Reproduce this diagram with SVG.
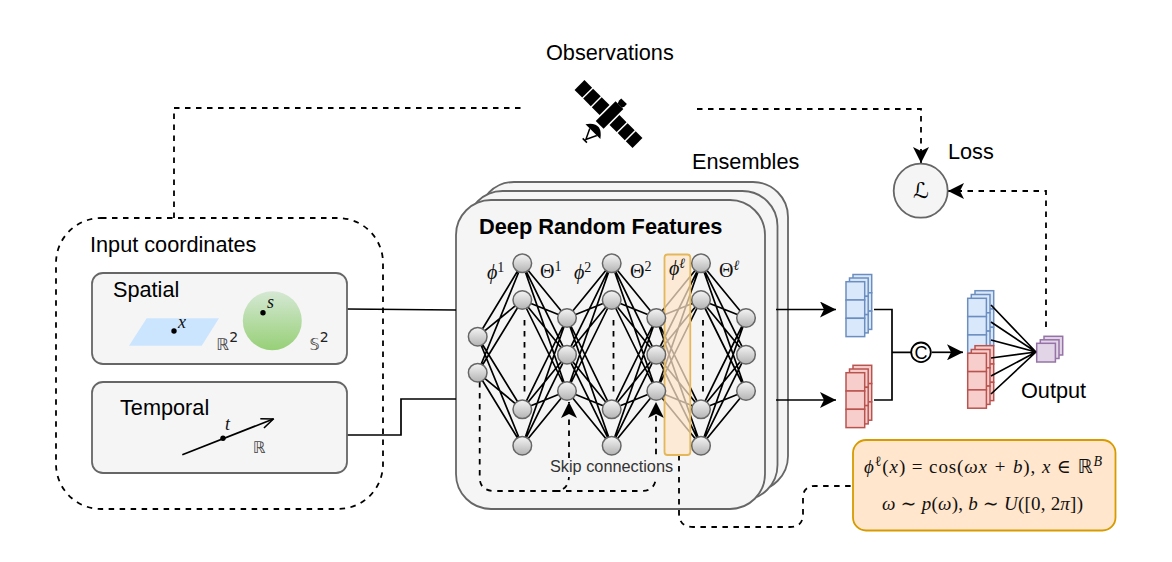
<svg xmlns="http://www.w3.org/2000/svg" width="1172" height="562" viewBox="0 0 1172 562">
<style>
text{font-family:"Liberation Sans",Arial,sans-serif;fill:#000}
.t{font-size:21.7px}
.m{font-family:"Liberation Serif","DejaVu Serif",serif;font-size:20px;font-style:italic;fill:#111}
.u{font-style:normal}
.bb{font-family:"DejaVu Sans",sans-serif;font-style:normal;font-size:16px;fill:#444}
.sup{font-size:14px;font-style:normal}
.card{fill:#f5f5f5;stroke:#666;stroke-width:1.8}
.n{fill:url(#ng);stroke:#666;stroke-width:1.5}
.e{fill:none;stroke:#000;stroke-width:1.7}
.d{fill:none;stroke:#000;stroke-width:1.8;stroke-dasharray:5.500 5.500}
.bl{fill:#dae8fc;stroke:#6c8ebf;stroke-width:1.5}
.rd{fill:#f8cecc;stroke:#b85450;stroke-width:1.5}
.pu{fill:#e1d5e7;stroke:#9673a6;stroke-width:1.5}
</style>
<defs>
<linearGradient id="ng" x1="0" y1="0" x2="0" y2="1"><stop offset="0" stop-color="#f5f5f5"/><stop offset="1" stop-color="#b3b3b3"/></linearGradient>
<linearGradient id="sg" x1="0" y1="0" x2="0" y2="1"><stop offset="0" stop-color="#d5e8d4"/><stop offset="1" stop-color="#97d077"/></linearGradient>
<marker id="ar" viewBox="0 0 16 16" refX="16" refY="8" markerWidth="16" markerHeight="16" markerUnits="userSpaceOnUse" orient="auto"><path d="M0 0L16 8L0 16L4 8Z" fill="#000"/></marker>
<marker id="oa" viewBox="0 0 14 12" refX="13" refY="6" markerWidth="14" markerHeight="12" markerUnits="userSpaceOnUse" orient="auto"><path d="M1 1L13 6L1 11" fill="none" stroke="#000" stroke-width="1.6"/></marker>
<g id="s3"><rect width="18.7" height="18.3"/><rect y="18.3" width="18.7" height="18.3"/><rect y="36.6" width="18.7" height="18.3"/></g>
</defs>

<g id="obs">
<text class="t" x="546" y="59.5">Observations</text>
<g transform="translate(608.5 114) rotate(45)" fill="#000">
<rect x="-41" y="-7" width="10.800" height="14"/><rect x="-28.800" y="-7" width="10.800" height="14"/><rect x="-16.600" y="-7" width="11" height="14"/>
<rect x="8.500" y="-7" width="10" height="14"/><rect x="20" y="-7" width="10" height="14"/><rect x="31.500" y="-7" width="9.500" height="14"/>
<rect x="-4" y="-14" width="11" height="28"/>
<path d="M-2 -20H6V-17L5 -14H-1L-2 -17Z"/>
<path d="M-9 23.500Q1.500 9 12 23.500Z"/>
<path d="M-3 23.500L2 34L7 23.500M-1 35.500H5" fill="none" stroke="#000" stroke-width="1.500"/>
</g>
</g>

<g id="ensemble-cards">
<rect class="card" x="479" y="182" width="309" height="309" rx="35"/>
<rect class="card" x="467.5" y="191" width="310" height="309" rx="35"/>
<rect class="card" x="456" y="200" width="309" height="309" rx="35"/>
<text x="479" y="234" style="font-size:21.8px;font-weight:bold">Deep Random Features</text>
</g>
<text id="ensembles" class="t" x="692" y="169">Ensembles</text>

<g id="input-coordinates">
<rect x="56" y="218" width="327" height="291" rx="45" fill="none" stroke="#000" stroke-width="1.8" stroke-dasharray="5.500 5.500"/>
<text class="t" x="90" y="251.7">Input coordinates</text>
</g>

<g id="connectors">
<path class="d" d="M174 218V108H526"/>
<path class="d" d="M697 109H921V163" marker-end="url(#ar)"/>
<path class="d" d="M1046 327V191H948" marker-end="url(#ar)"/>
<path class="e" d="M347 309L456 310"/>
<path class="e" d="M347 435H401V399H456"/>
<path class="e" d="M776 309.5H836" marker-end="url(#ar)"/>
<path class="e" d="M776 400H836" marker-end="url(#ar)"/>
<path class="e" d="M874 309.5H892V400H874M892 352.3H911"/>
<path class="e" d="M931.7 352.3H963" marker-end="url(#ar)"/>
<path class="d" d="M479.7 382V478Q480 491 495 491H555Q569 491 569 475V402" marker-end="url(#ar)"/>
<path class="d" d="M555 491H642Q656 491 656 475V402" marker-end="url(#ar)"/>
<path class="d" d="M679 455V513Q679 527 693 527H790Q803 527 803 514V498Q803 486 815 486H853"/>
<!-- network edges -->
<path class="e" d="M477.7 336.7L522.3 263.3M477.7 336.7L522.3 300M477.7 336.7L522.3 409.3M477.7 336.7L522.3 445.7M477.7 372.7L522.3 263.3M477.7 372.7L522.3 300M477.7 372.7L522.3 409.3M477.7 372.7L522.3 445.7"/>
<path class="e" d="M522.3 263.3L567 318M522.3 263.3L567 354.7M522.3 263.3L567 391M522.3 300L567 318M522.3 300L567 354.7M522.3 300L567 391M522.3 409.3L567 318M522.3 409.3L567 354.7M522.3 409.3L567 391M522.3 445.7L567 318M522.3 445.7L567 354.7M522.3 445.7L567 391"/>
<path class="e" d="M611.7 263.3L567 318M611.7 263.3L567 354.7M611.7 263.3L567 391M611.7 300L567 318M611.7 300L567 354.7M611.7 300L567 391M611.7 409.3L567 318M611.7 409.3L567 354.7M611.7 409.3L567 391M611.7 445.7L567 318M611.7 445.7L567 354.7M611.7 445.7L567 391"/>
<path class="e" d="M611.7 263.3L656.3 318M611.7 263.3L656.3 354.7M611.7 263.3L656.3 391M611.7 300L656.3 318M611.7 300L656.3 354.7M611.7 300L656.3 391M611.7 409.3L656.3 318M611.7 409.3L656.3 354.7M611.7 409.3L656.3 391M611.7 445.7L656.3 318M611.7 445.7L656.3 354.7M611.7 445.7L656.3 391"/>
<path class="e" d="M701 263.3L656.3 318M701 263.3L656.3 354.7M701 263.3L656.3 391M701 300L656.3 318M701 300L656.3 354.7M701 300L656.3 391M701 409.3L656.3 318M701 409.3L656.3 354.7M701 409.3L656.3 391M701 445.7L656.3 318M701 445.7L656.3 354.7M701 445.7L656.3 391"/>
<path class="e" d="M701 263.3L746 318M701 263.3L746 354.7M701 263.3L746 391M701 300L746 318M701 300L746 354.7M701 300L746 391M701 409.3L746 318M701 409.3L746 354.7M701 409.3L746 391M701 445.7L746 318M701 445.7L746 354.7M701 445.7L746 391"/>
<path class="d" d="M524.5 320V395M613.5 320V395M703 320V395"/>
</g>

<g id="highlight"><rect x="664.5" y="254.5" width="25.8" height="200.5" rx="3" fill="#ffe6cc" fill-opacity=".72" stroke="#e3b75a" stroke-width="1.8"/></g>

<g id="net-nodes">
<g id="n01"><circle class="n" cx="477.7" cy="336.7" r="9.3"/></g>
<g id="n02"><circle class="n" cx="477.7" cy="372.7" r="9.3"/></g>
<g id="n11"><circle class="n" cx="522.3" cy="263.3" r="9.3"/></g>
<g id="n12"><circle class="n" cx="522.3" cy="300" r="9.3"/></g>
<g id="n13"><circle class="n" cx="522.3" cy="409.3" r="9.3"/></g>
<g id="n14"><circle class="n" cx="522.3" cy="445.7" r="9.3"/></g>
<g id="n21"><circle class="n" cx="567" cy="318" r="9.3"/></g>
<g id="n22"><circle class="n" cx="567" cy="354.7" r="9.3"/></g>
<g id="n23"><circle class="n" cx="567" cy="391" r="9.3"/></g>
<g id="n31"><circle class="n" cx="611.7" cy="263.3" r="9.3"/></g>
<g id="n32"><circle class="n" cx="611.7" cy="300" r="9.3"/></g>
<g id="n33"><circle class="n" cx="611.7" cy="409.3" r="9.3"/></g>
<g id="n34"><circle class="n" cx="611.7" cy="445.7" r="9.3"/></g>
<g id="n41"><circle class="n" cx="656.3" cy="318" r="9.3"/></g>
<g id="n42"><circle class="n" cx="656.3" cy="354.7" r="9.3"/></g>
<g id="n43"><circle class="n" cx="656.3" cy="391" r="9.3"/></g>
<g id="n51"><circle class="n" cx="701" cy="263.3" r="9.3"/></g>
<g id="n52"><circle class="n" cx="701" cy="300" r="9.3"/></g>
<g id="n53"><circle class="n" cx="701" cy="409.3" r="9.3"/></g>
<g id="n54"><circle class="n" cx="701" cy="445.7" r="9.3"/></g>
<g id="n61"><circle class="n" cx="746" cy="318" r="9.3"/></g>
<g id="n62"><circle class="n" cx="746" cy="354.7" r="9.3"/></g>
<g id="n63"><circle class="n" cx="746" cy="391" r="9.3"/></g>
</g>

<g id="net-labels">
<text class="m" x="487" y="279">ϕ<tspan class="sup" dy="-7">1</tspan></text>
<text class="m u" x="540" y="278" style="font-style:normal">Θ<tspan class="sup" dy="-7">1</tspan></text>
<text class="m" x="574" y="279">ϕ<tspan class="sup" dy="-7">2</tspan></text>
<text class="m u" x="630" y="278" style="font-style:normal">Θ<tspan class="sup" dy="-7">2</tspan></text>
<text class="m" x="669" y="275">ϕ<tspan class="sup" dy="-7" style="font-style:italic">ℓ</tspan></text>
<text class="m u" x="719" y="277" style="font-style:normal">Θ<tspan class="sup" dy="-7" style="font-style:italic">ℓ</tspan></text>
<rect x="550" y="458" width="123" height="19" fill="#f5f5f5"/>
<text x="550" y="471.7" style="font-size:16.3px;fill:#333">Skip connections</text>
</g>

<g id="spatial">
<rect class="card" x="92" y="273" width="255" height="91" rx="11"/>
<text class="t" x="113" y="297">Spatial</text>
<path d="M129 345.7L146.7 318.3H219L201.7 345.7Z" fill="#cce5ff"/>
<circle cx="174" cy="331" r="2.7"/>
<text class="m" x="178" y="328" style="font-size:18px">x</text>
<text class="bb" x="216.5" y="350">ℝ<tspan class="sup" dy="-8" fill="#222">2</tspan></text>
<circle cx="272.3" cy="320.7" r="29.5" fill="url(#sg)"/>
<circle cx="263" cy="312.7" r="2.7"/>
<text class="m" x="267" y="308" style="font-size:18px">s</text>
<text class="bb" x="309.5" y="350">𝕊<tspan class="sup" dy="-8" fill="#222">2</tspan></text>
</g>

<g id="temporal">
<rect class="card" x="92" y="382" width="255" height="91" rx="11"/>
<text class="t" x="120" y="415">Temporal</text>
<path d="M182.3 454.7L273.3 419" class="e" marker-end="url(#oa)"/>
<circle cx="223" cy="438.3" r="2.7"/>
<text class="m" x="225" y="430" style="font-size:18px">t</text>
<text class="bb" x="253" y="452.7">ℝ</text>
</g>

<g id="loss">
<circle class="card" cx="920.7" cy="190.7" r="27"/>
<text x="921" y="198" text-anchor="middle" style="font-family:'DejaVu Sans',sans-serif;font-size:22px;fill:#000">ℒ</text>
<text class="t" x="948" y="159">Loss</text>
</g>

<g id="blue-stack" class="bl"><use href="#s3" x="853" y="274.5"/><use href="#s3" x="849.5" y="278"/><use href="#s3" x="846" y="281.7"/></g>
<g id="red-stack" class="rd"><use href="#s3" x="853" y="365.3"/><use href="#s3" x="849.5" y="369"/><use href="#s3" x="846" y="372.7"/></g>
<g id="concat"><circle cx="921" cy="352.3" r="9.8" fill="#fff" stroke="#000" stroke-width="1.8"/><text x="921" y="358.8" text-anchor="middle" style="font-size:18px">C</text></g>
<g id="merged-blue" class="bl"><use href="#s3" x="975" y="290.7"/><use href="#s3" x="971.3" y="294.5"/><use href="#s3" x="967.7" y="298.3"/></g>
<g id="merged-red" class="rd"><use href="#s3" x="975" y="345.7"/><use href="#s3" x="971.3" y="349.5"/><use href="#s3" x="967.7" y="353.3"/></g>
<g id="output" class="pu"><rect x="1044" y="336.3" width="18.7" height="18.7"/><rect x="1040.3" y="339.8" width="18.7" height="18.7"/><rect x="1036.7" y="343.3" width="18.7" height="18.7"/></g>
<path id="fan" class="e" d="M991 305L1036 352M991 322L1036 352M991 340L1036 352M991 358L1036 352M991 376L1036 352M991 394L1036 352"/>
<text id="output-label" class="t" x="1021" y="398">Output</text>

<g id="formula">
<rect x="853" y="440" width="262.500" height="90.500" rx="13" fill="#ffe6cc" stroke="#d79b00" stroke-width="1.800"/>
<text class="m" x="864" y="473" textLength="238" lengthAdjust="spacing" style="font-size:19px">ϕ<tspan class="sup" dy="-7">ℓ</tspan><tspan dy="7" class="u" style="font-style:normal">(</tspan>x<tspan class="u" style="font-style:normal">) = cos(</tspan>ωx + b<tspan class="u" style="font-style:normal">), </tspan>x<tspan class="u" style="font-style:normal"> ∈ </tspan><tspan style="font-family:'DejaVu Sans';font-style:normal">ℝ</tspan><tspan class="sup" dy="-7" style="font-style:italic">B</tspan></text>
<text class="m" x="882" y="510" textLength="201" lengthAdjust="spacing" style="font-size:19px">ω ∼ p<tspan class="u" style="font-style:normal">(</tspan>ω<tspan class="u" style="font-style:normal">),  </tspan>b ∼ U<tspan class="u" style="font-style:normal">([0, 2</tspan>π<tspan class="u" style="font-style:normal">])</tspan></text>
</g>
</svg>
